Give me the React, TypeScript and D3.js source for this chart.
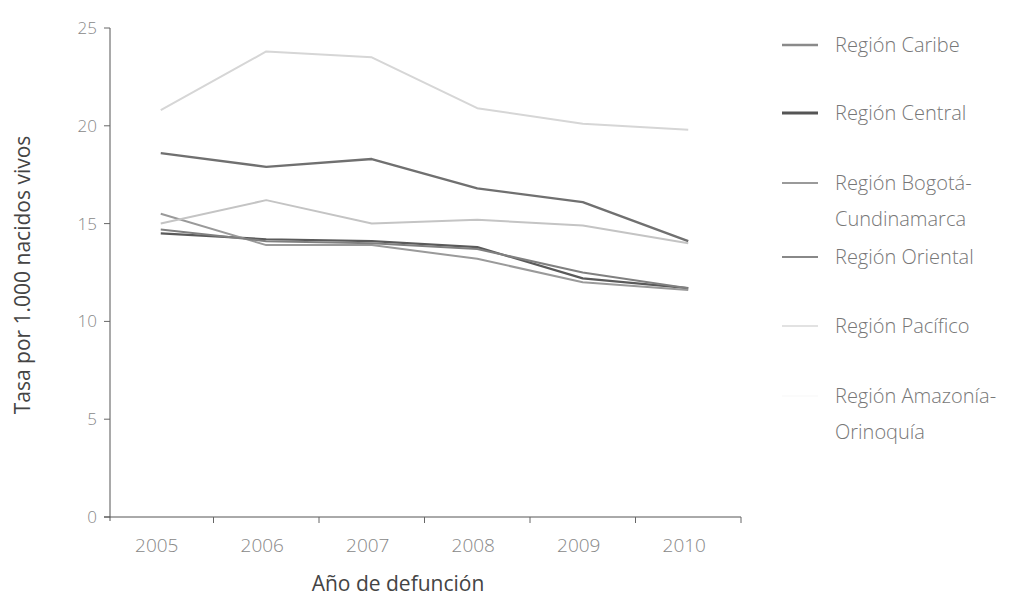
import React from "react";
import * as d3 from "d3";

const years = ["2005", "2006", "2007", "2008", "2009", "2010"];
const yTicks = [0, 5, 10, 15, 20, 25];

const caribe = [18.6, 17.9, 18.3, 16.8, 16.1, 14.1];
const central = [14.5, 14.2, 14.1, 13.8, 12.2, 11.7];
const bogota = [15.5, 13.9, 13.9, 13.2, 12.0, 11.6];
const oriental = [14.7, 14.1, 14.0, 13.7, 12.5, 11.7];
const pacifico = [20.8, 23.8, 23.5, 20.9, 20.1, 19.8];
const amazonia = [15.0, 16.2, 15.0, 15.2, 14.9, 14.0];

const seriesNames = [
  ["Región Caribe"],
  ["Región Central"],
  ["Región Bogotá-", "Cundinamarca"],
  ["Región Oriental"],
  ["Región Pacífico"],
  ["Región Amazonía-", "Orinoquía"],
];

const series = [
  { values: caribe, color: "#707070", width: 2.4, legendColor: "#8a8a8a", legendWidth: 2.6 },
  { values: central, color: "#5a5a5a", width: 2.2, legendColor: "#555", legendWidth: 3 },
  { values: bogota, color: "#9a9a9a", width: 2, legendColor: "#9a9a9a", legendWidth: 2 },
  { values: oriental, color: "#808080", width: 2, legendColor: "#888", legendWidth: 2 },
  { values: pacifico, color: "#d6d6d6", width: 2, legendColor: "#d8d8d8", legendWidth: 1.5 },
  { values: amazonia, color: "#c4c4c4", width: 2, legendColor: "#fafafa", legendWidth: 1.5 },
];

const legendY = [45, 113, 183, 257, 326, 396];

export default function App() {
  const x = d3.scaleBand<string>().domain(years).range([108, 741]);
  const y = d3.scaleLinear().domain([0, 25]).range([517, 28]);
  const line = d3
    .line<number>()
    .x((_, i) => (x(years[i]) as number) + x.bandwidth() / 2)
    .y((d) => y(d));
  const font = "'Open Sans', 'DejaVu Sans', sans-serif";
  const boundaries = years.map((yr) => (x(yr) as number) + x.bandwidth());

  return (
    <svg
      width={1012}
      height={602}
      style={{ position: "absolute", left: 0, top: 0, background: "#fff" }}
      fontFamily={font}
    >
      {/* lines */}
      {series.map((s, i) => (
        <path
          key={i}
          d={line(s.values) || ""}
          fill="none"
          stroke={s.color}
          strokeWidth={s.width}
          strokeLinejoin="round"
        />
      ))}

      {/* y axis */}
      <line x1={110} x2={110} y1={y(25)} y2={y(0) + 4} stroke="#555" strokeWidth={1} />
      {yTicks.map((t) => (
        <g key={t}>
          <line x1={104} x2={110} y1={y(t)} y2={y(t)} stroke="#666" />
          <text x={97} y={y(t)} dy="0.35em" textAnchor="end" fontSize={17} fill="#888" fontWeight={300}>
            {t}
          </text>
        </g>
      ))}

      {/* x axis */}
      <line x1={104} x2={741} y1={y(0)} y2={y(0)} stroke="#555" strokeWidth={1} />
      {boundaries.map((b, i) => (
        <line key={i} x1={b} x2={b} y1={y(0)} y2={y(0) + 6} stroke="#666" />
      ))}
      {years.map((yr) => (
        <text
          key={yr}
          x={(x(yr) as number) + x.bandwidth() / 2 - 4}
          y={545}
          dy="0.35em"
          textAnchor="middle"
          fontSize={19}
          fill="#888"
          fontWeight={300}
        >
          {yr}
        </text>
      ))}

      {/* axis titles */}
      <text
        transform="translate(23,275) rotate(-90)"
        textAnchor="middle"
        dy="0.35em"
        fontSize={21}
        fill="#444"
      >
        Tasa por 1.000 nacidos vivos
      </text>
      <text x={398} y={584} textAnchor="middle" dy="0.35em" fontSize={21} fill="#444">
        Año de defunción
      </text>

      {/* legend */}
      {series.map((s, i) => (
        <g key={i}>
          <line
            x1={782}
            x2={818}
            y1={legendY[i]}
            y2={legendY[i]}
            stroke={s.legendColor}
            strokeWidth={s.legendWidth}
          />
          {seriesNames[i].map((txt, j) => (
            <text
              key={j}
              x={835}
              y={legendY[i] + j * 36}
              dy="0.35em"
              fontSize={20}
              fill="#777"
              fontWeight={300}
            >
              {txt}
            </text>
          ))}
        </g>
      ))}
    </svg>
  );
}
